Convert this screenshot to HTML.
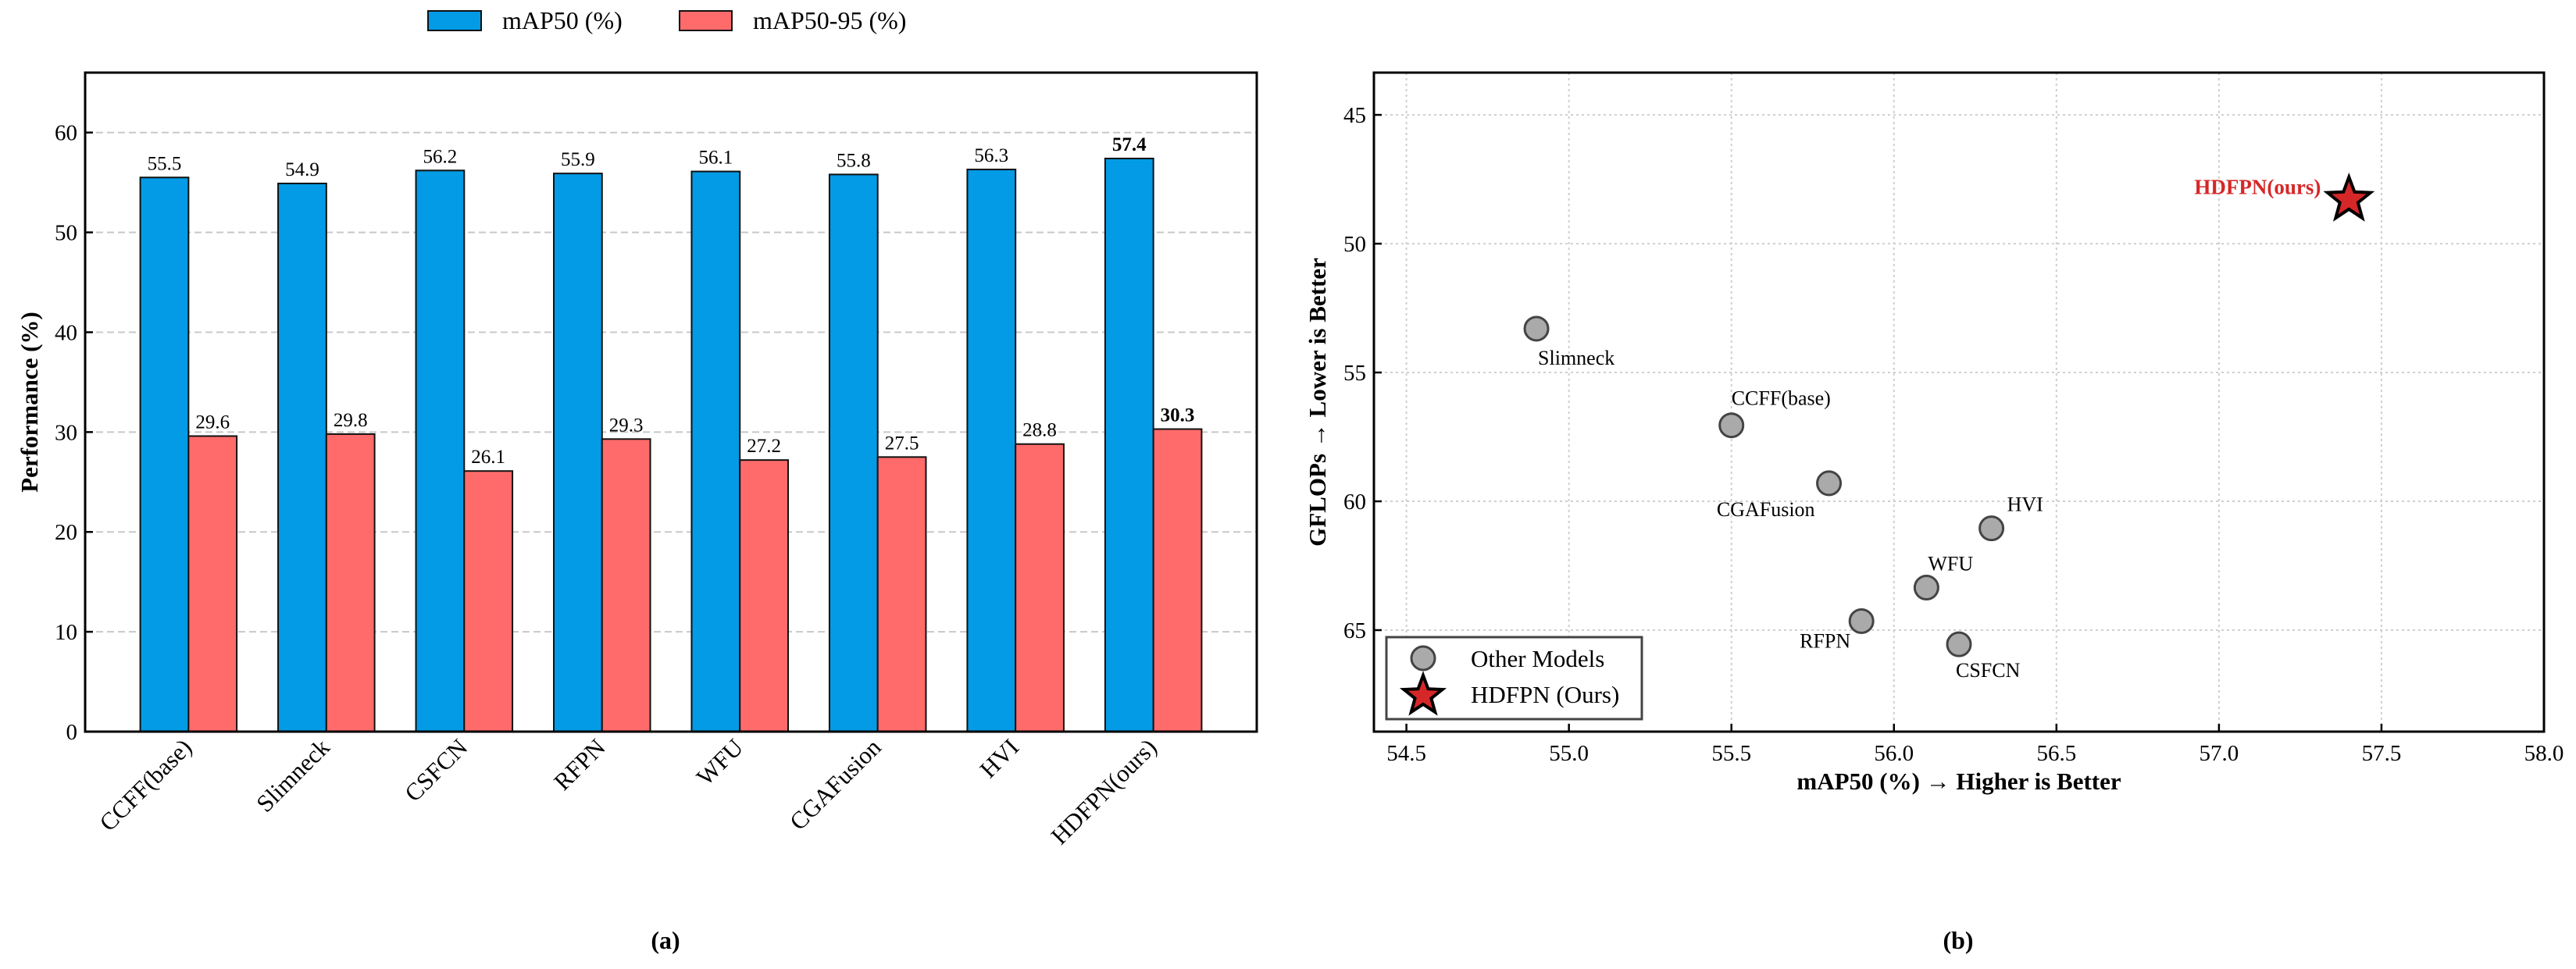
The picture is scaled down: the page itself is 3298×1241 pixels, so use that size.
<!DOCTYPE html>
<html><head><meta charset="utf-8"><style>
html,body{margin:0;padding:0;background:#fff;}
svg{display:block;font-family:"Liberation Serif",serif;}
</style></head><body>
<svg id="fig" width="3298" height="1241" viewBox="0 0 3298 1241" xmlns="http://www.w3.org/2000/svg">
<g id="bar"></g>
<g id="sc"></g>
<text x="852" y="1215" font-size="32" font-weight="bold" text-anchor="middle">(a)</text>
<text x="2507" y="1215" font-size="32" font-weight="bold" text-anchor="middle">(b)</text>
</svg>
<script>
const categories = ["CCFF(base)","Slimneck","CSFCN","RFPN","WFU","CGAFusion","HVI","HDFPN(ours)"];
const map50 = [55.5,54.9,56.2,55.9,56.1,55.8,56.3,57.4];
const map5095 = [29.6,29.8,26.1,29.3,27.2,27.5,28.8,30.3];
const barYTicks = [0,10,20,30,40,50,60];

const scNames = ["Slimneck","CCFF(base)","CGAFusion","HVI","WFU","RFPN","CSFCN"];
const scX = [54.9,55.5,55.8,56.3,56.1,55.9,56.2];
const scY = [53.3,57.05,59.3,61.05,63.35,64.65,65.55];
const oursName = "HDFPN(ours)";
const oursX = [57.4];
const oursY = [48.2];
const scXTicks = ["54.5","55.0","55.5","56.0","56.5","57.0","57.5","58.0"];
const scYTicks = [45,50,55,60,65];

const NS="http://www.w3.org/2000/svg";
function mk(parent,tag,attrs,text){const e=document.createElementNS(NS,tag);for(const k in attrs)e.setAttribute(k,attrs[k]);if(text!==undefined)e.textContent=text;parent.appendChild(e);return e;}

// ---------- Bar chart ----------
const bar=document.getElementById('bar');
const L=109,R=1609,T=93,B=937;
const yMax=66;
const by=v=>B-(v/yMax)*(B-T);
const step=(R-L)/8.5;
const bx=i=>L+(i+0.75)*step;
const bw=step*0.35;
barYTicks.forEach(t=>{
  if(t>0){const g=mk(bar,'line',{x1:L,x2:R,y1:by(t),y2:by(t),stroke:'#c8c8c8','stroke-width':2,'stroke-dasharray':'9,5'});
  
  }
  const tk=mk(bar,'line',{x1:L,x2:L+10,y1:by(t),y2:by(t),stroke:'#000','stroke-width':2.5});
  
  
  const tl=mk(bar,'text',{x:L-10,y:by(t)+10,'font-size':29,'text-anchor':'end'},String(t));
  
  
});
categories.forEach((c,i)=>{
  const cx=bx(i);
  const b1=mk(bar,'rect',{x:cx-bw,y:by(map50[i]),width:bw,height:B-by(map50[i]),fill:'#039be5',stroke:'#111','stroke-width':2});
  
  
  const b2=mk(bar,'rect',{x:cx,y:by(map5095[i]),width:bw,height:B-by(map5095[i]),fill:'#ff6b6b',stroke:'#111','stroke-width':2});
  
  
  const bold=i===categories.length-1?'bold':'normal';
  const v1=mk(bar,'text',{x:cx-bw/2,y:by(map50[i])-10,'font-size':25,'text-anchor':'middle','font-weight':bold},map50[i].toFixed(1));
  
  
  const v2=mk(bar,'text',{x:cx+bw/2,y:by(map5095[i])-10,'font-size':25,'text-anchor':'middle','font-weight':bold},map5095[i].toFixed(1));
  
  
  const cl=mk(bar,'text',{x:cx+6,y:B+22,'font-size':31,'text-anchor':'end',transform:`rotate(-45 ${cx+6} ${B+22})`},c);
  
  
});
const f1=mk(bar,'rect',{x:L,y:T,width:R-L,height:B-T,fill:'none',stroke:'#000','stroke-width':3});


const yt=mk(bar,'text',{x:0,y:0,'font-size':31,'font-weight':'bold','text-anchor':'middle',transform:`translate(48 ${(T+B)/2}) rotate(-90)`},'Performance (%)');


// legend
const lg=mk(bar,'g',{});


const lp1=mk(lg,'rect',{x:548,y:14,width:68,height:25,fill:'#039be5',stroke:'#111','stroke-width':2});


const lt1=mk(lg,'text',{x:643,y:37,'font-size':32},'mAP50 (%)');


const lp2=mk(lg,'rect',{x:870,y:14,width:67,height:25,fill:'#ff6b6b',stroke:'#111','stroke-width':2});


const lt2=mk(lg,'text',{x:964,y:37,'font-size':32},'mAP50-95 (%)');



// ---------- Scatter ----------
const sc=document.getElementById('sc');
const SL=1759,SR=3257,ST=93,SB=937;
const xmin=54.4,xmax=58.0,ymin=43.36,ymax=68.94;
const sx=v=>SL+(v-xmin)/(xmax-xmin)*(SR-SL);
const sy=v=>ST+(v-ymin)/(ymax-ymin)*(SB-ST);
scXTicks.forEach(t=>{
  const x=sx(parseFloat(t));
  if(x<SR-2){const g=mk(sc,'line',{x1:x,x2:x,y1:ST,y2:SB,stroke:'#cfcfcf','stroke-width':2,'stroke-dasharray':'3,4'});
  
  }
  const tk=mk(sc,'line',{x1:x,x2:x,y1:SB,y2:SB-10,stroke:'#000','stroke-width':2.5});
  
  
  const tl=mk(sc,'text',{x:x,y:SB+37,'font-size':29,'text-anchor':'middle'},t);
  
  
});
scYTicks.forEach(t=>{
  const y=sy(t);
  const g=mk(sc,'line',{x1:SL,x2:SR,y1:y,y2:y,stroke:'#cfcfcf','stroke-width':2,'stroke-dasharray':'3,4'});
  
  
  const tk=mk(sc,'line',{x1:SL,x2:SL+10,y1:y,y2:y,stroke:'#000','stroke-width':2.5});
  
  
  const tl=mk(sc,'text',{x:SL-10,y:y+10,'font-size':29,'text-anchor':'end'},String(t));
  
  
});
// label offsets per model (dx, dy, anchor) - styling only
const off={"Slimneck":[2,46,'start'],"CCFF(base)":[0,-26,'start'],"CGAFusion":[-18,42,'end'],"HVI":[20,-22,'start'],"WFU":[2,-22,'start'],"RFPN":[-14,34,'end'],"CSFCN":[-4,42,'start']};
scNames.forEach((n,i)=>{
  const x=sx(scX[i]),y=sy(scY[i]);
  const c=mk(sc,'circle',{cx:x,cy:y,r:15,fill:'#aaaaaa',stroke:'#444','stroke-width':3});
  
  
  const o=off[n];
  const t=mk(sc,'text',{x:x+o[0],y:y+o[1],'font-size':26,'text-anchor':o[2]},n);
  
  
});
function starPts(cx,cy,R){const r=R*0.42;let p=[];for(let k=0;k<10;k++){const a=-Math.PI/2+k*Math.PI/5;const rr=k%2?r:R;p.push((cx+rr*Math.cos(a)).toFixed(1)+','+(cy+rr*Math.sin(a)).toFixed(1));}return p.join(' ');}
oursX.forEach((v,i)=>{
  const x=sx(v),y=sy(oursY[i]);
  const s=mk(sc,'polygon',{points:starPts(x,y+3,29),fill:'#d62728',stroke:'#000','stroke-width':4,'stroke-linejoin':'miter'});
  
  
  const t=mk(sc,'text',{x:x-36,y:y-4,'font-size':27,'font-weight':'bold','text-anchor':'end',fill:'#d62728'},oursName);
  
  
});
const f2=mk(sc,'rect',{x:SL,y:ST,width:SR-SL,height:SB-ST,fill:'none',stroke:'#000','stroke-width':3});


const xt=mk(sc,'text',{x:(SL+SR)/2,y:1011,'font-size':31,'font-weight':'bold','text-anchor':'middle'},'mAP50 (%) \u2192 Higher is Better');


const yt2=mk(sc,'text',{x:0,y:0,'font-size':31,'font-weight':'bold','text-anchor':'middle',transform:`translate(1697 ${(ST+SB)/2}) rotate(-90)`},'GFLOPs \u2192 Lower is Better');


const sl=mk(sc,'g',{});


const lb=mk(sl,'rect',{x:1775,y:816,width:327,height:105,fill:'#fff',stroke:'#444','stroke-width':3});


const lc=mk(sl,'circle',{cx:1822,cy:843,r:15,fill:'#aaaaaa',stroke:'#444','stroke-width':3});


const ltx1=mk(sl,'text',{x:1883,y:854,'font-size':31},'Other Models');


const ls=mk(sl,'polygon',{points:starPts(1822,891,26),fill:'#d62728',stroke:'#000','stroke-width':4});


const ltx2=mk(sl,'text',{x:1883,y:900,'font-size':31},'HDFPN (Ours)');


</script>
</body></html>
